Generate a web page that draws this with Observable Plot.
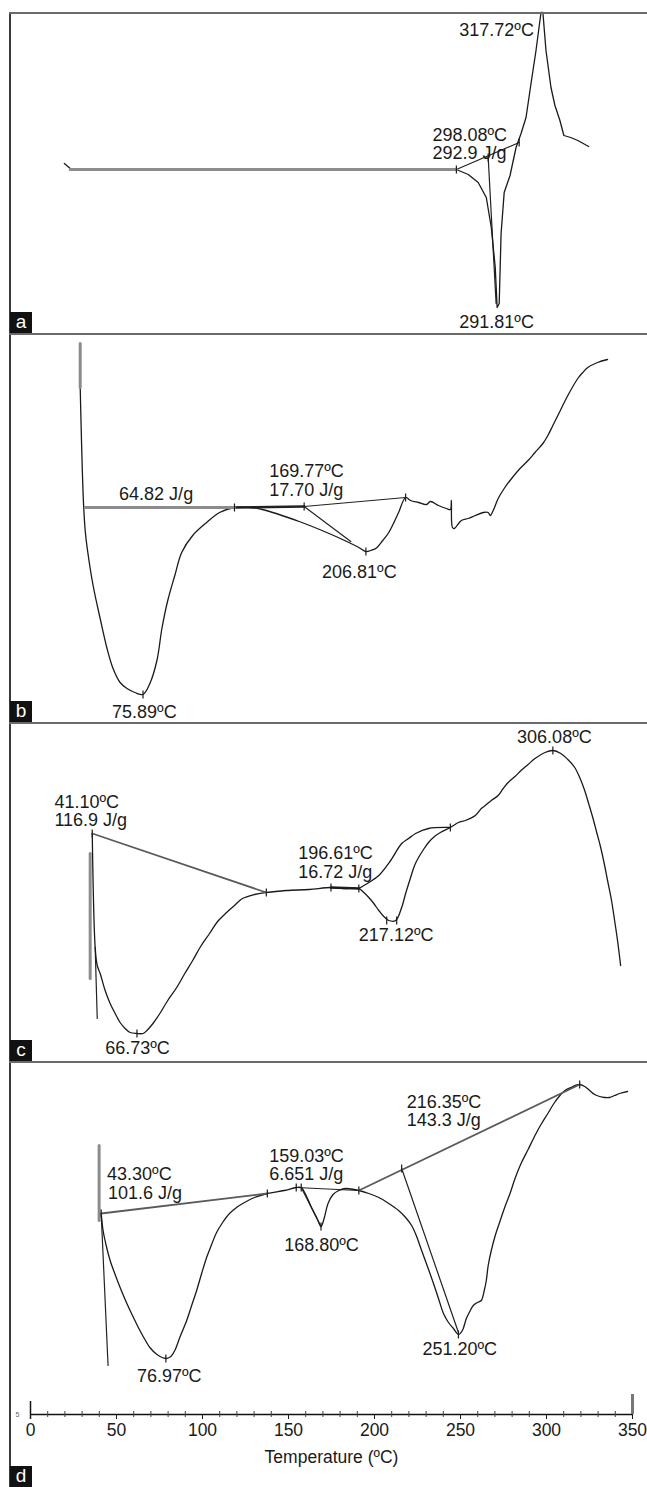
<!DOCTYPE html>
<html><head><meta charset="utf-8">
<script src="https://cdn.jsdelivr.net/npm/d3@7"></script>
<script src="https://cdn.jsdelivr.net/npm/@observablehq/plot@0.6"></script>
<style>
body{margin:0;background:#fff;}
#fig{position:relative;width:647px;height:1487px;overflow:hidden;background:#fff;font-family:"Liberation Sans",Arial,Helvetica,sans-serif}
.panel{position:absolute;left:0;width:647px}
.vline{position:absolute;left:9px;top:12px;width:1.5px;height:1475px;background:#3a3a3a}
.hline{position:absolute;left:9px;width:638px;background:#6a6a6a}
.tag{position:absolute;left:10px;width:22px;height:21px;background:#111;color:#fff;font-size:19px;line-height:19px;text-align:center}
</style></head><body><div id="fig"></div>
<script>
// ---------- shared axis values ----------
const tempTicks = [0, 50, 100, 150, 200, 250, 300, 350];
const minorTicks = [10,20,30,40,60,70,80,90,110,120,130,140,160,170,180,190,210,220,230,240,260,270,280,290,310,320,330,340];
const panelTags = ["a", "b", "c", "d"];

// ---------- panel a : [temperature ºC, heat flow (arb.)] ----------
const curveA = [[19.7,17.0],[23.1,16.5],[40.5,16.4],[247.6,16.4],[254.5,15.9],[260.3,15.1],[265.0,13.6],[267.9,10.6],[270.2,6.6],[271.3,2.6],[272.5,3.0],[273.6,10.0],[275.4,14.1],[278.8,15.8],[282.3,18.6],[285.2,20.0],[288.1,21.6],[291.0,25.0],[293.9,28.3],[296.8,32.1],[297.9,32.1],[299.7,28.3],[302.6,24.6],[304.9,22.8],[307.8,21.3],[310.1,19.8],[314.1,19.6],[318.2,19.3],[324.5,18.7]];
const greyA = [[[23.1,16.4],[247.6,16.4]]];
const midA = [];
const linesA = [[[247.6,16.4],[284.1,19.1]], [[266.1,17.6],[270.7,3.0]]];
const ticksA = [[247.6,16.4],[266.1,17.6],[284.1,19.1]];
const labelsA = [
  {t:"317.72ºC", x:249.3, y:30.3},
  {t:"298.08ºC", x:233.7, y:19.8},
  {t:"292.9 J/g", x:233.7, y:18.0},
  {t:"291.81ºC", x:249.3, y:1.1}
];

// ---------- panel b ----------
const curveB = [[28.9,33.6],[30.7,22.5],[31.8,19.3],[33.0,17.5],[36.4,13.8],[40.5,10.5],[44.5,7.5],[48.0,5.5],[52.1,4.1],[56.1,3.5],[60.7,3.1],[65.4,2.9],[69.4,4.0],[73.5,6.3],[76.4,9.5],[79.8,12.3],[83.9,14.8],[87.9,17.1],[94.3,18.8],[102.4,20.1],[109.9,21.1],[118.6,21.6],[127.3,21.6],[134.8,21.4],[156.2,20.2],[173.6,19.0],[185.1,18.1],[190.9,17.6],[195.0,17.2],[197.8,17.3],[200.7,17.5],[204.8,18.3],[208.3,19.1],[214.0,21.1],[218.1,22.6],[221.0,22.3],[225.6,22.1],[230.2,21.9],[232.5,22.2],[237.2,21.8],[241.8,21.5],[244.1,21.4],[244.7,22.3],[245.3,19.6],[246.4,19.5],[250.5,20.3],[254.5,20.5],[258.6,20.8],[263.2,21.1],[266.1,21.1],[267.3,20.8],[269.0,21.3],[271.9,22.5],[275.4,23.5],[278.8,24.3],[284.6,25.5],[289.3,26.3],[293.3,27.1],[297.9,28.0],[300.8,28.8],[303.7,29.8],[306.6,30.8],[312.4,32.8],[318.2,34.5],[321.1,35.1],[324.0,35.6],[329.7,36.1],[335.5,36.4]];
const greyB = [[[28.9,38.0],[28.9,33.6]], [[31.8,21.6],[118.6,21.6]]];
const midB = [];
const darkB = [[118.6,21.6],[159.1,21.7]];
const linesB = [[[159.1,21.7],[218.1,22.6]], [[159.1,21.7],[186.2,18.2]]];
const ticksB = [[118.6,21.6],[159.1,21.7],[195.0,17.2],[218.1,22.6],[65.4,2.9]];
const labelsB = [
  {t:"64.82 J/g", x:51.5, y:22.9},
  {t:"169.77ºC", x:138.8, y:25.2},
  {t:"17.70 J/g", x:138.8, y:23.3},
  {t:"206.81ºC", x:169.5, y:15.1},
  {t:"75.89ºC", x:47.4, y:1.1}
];

// ---------- panel c ----------
const curveC = [[35.9,22.9],[37.6,11.5],[38.8,9.7],[40.5,8.9],[43.4,7.2],[46.3,5.9],[49.2,4.9],[52.1,4.0],[55.0,3.4],[57.9,3.0],[61.9,2.9],[65.4,2.9],[67.7,3.2],[71.2,3.9],[75.2,4.9],[79.8,6.2],[85.0,7.5],[89.7,8.9],[94.3,10.2],[98.9,11.6],[104.1,12.9],[108.8,14.1],[114.0,15.0],[118.6,15.7],[123.2,16.4],[130.2,16.8],[137.1,17.0],[148.7,17.2],[162.0,17.3],[174.7,17.5],[182.2,17.4],[190.9,17.4],[193.8,17.0],[196.7,16.5],[199.6,15.9],[202.5,15.2],[205.4,14.6],[208.3,14.2],[212.3,14.2],[215.8,15.5],[218.1,16.9],[221.0,18.5],[223.3,19.7],[225.6,20.5],[228.5,21.3],[231.4,22.0],[234.9,22.6],[238.3,23.0],[244.1,23.5],[248.8,24.0],[252.8,24.2],[258.6,24.7],[262.1,25.4],[264.4,25.7],[267.9,26.2],[271.9,26.7],[274.8,27.4],[277.7,28.0],[281.7,28.6],[285.2,29.2],[289.3,29.8],[293.3,30.4],[299.1,31.0],[303.7,31.2],[308.3,30.9],[312.4,30.3],[316.4,29.5],[319.3,28.5],[322.2,27.2],[324.5,25.9],[326.9,24.5],[329.2,23.0],[331.5,21.5],[333.8,19.7],[335.5,18.2],[337.8,16.2],[339.6,14.2],[341.3,12.2],[343.1,9.7]];
const upperC = [[190.9,17.4],[196.7,18.0],[202.5,18.7],[209.4,20.2],[215.8,21.9],[219.8,22.4],[223.9,22.9],[231.4,23.4],[244.1,23.5]];
const greyC = [[[34.7,20.9],[34.7,8.4]]];
const midC = [[[35.9,22.9],[137.1,17.0]]];
const darkC = [[174.7,17.5],[190.9,17.4]];
const linesC = [[[37.6,11.5],[38.8,4.4]]];
const ticksC = [[35.9,22.9],[137.1,17.0],[174.7,17.5],[190.9,17.4],[207.1,14.2],[212.9,14.2],[244.1,23.5],[303.7,31.2],[61.9,2.9]];
const labelsC = [
  {t:"41.10ºC", x:13.9, y:26.0},
  {t:"116.9 J/g", x:13.9, y:24.2},
  {t:"196.61ºC", x:155.6, y:20.9},
  {t:"16.72 J/g", x:155.6, y:19.0},
  {t:"217.12ºC", x:190.9, y:12.7},
  {t:"306.08ºC", x:282.9, y:32.5},
  {t:"66.73ºC", x:43.4, y:1.4}
];

// ---------- panel d ----------
const curveD = [[41.1,20.1],[42.2,18.4],[44.0,16.9],[46.3,15.4],[49.2,14.0],[52.1,12.7],[55.0,11.5],[57.9,10.4],[60.7,9.4],[63.6,8.4],[66.5,7.5],[69.4,6.7],[73.5,6.0],[78.7,5.6],[81.6,5.8],[83.9,6.4],[86.8,7.7],[90.8,9.4],[93.7,10.9],[96.6,12.4],[99.5,14.1],[102.4,15.7],[105.3,17.0],[108.2,18.2],[111.7,19.2],[115.7,20.1],[119.8,20.7],[124.4,21.2],[130.2,21.7],[137.7,22.1],[147.5,22.4],[154.5,22.7],[157.4,22.7],[159.7,22.1],[163.1,20.8],[166.6,19.6],[168.9,18.8],[170.7,19.6],[173.0,21.1],[175.9,22.0],[179.3,22.4],[183.4,22.6],[190.9,22.4],[196.7,22.1],[202.5,21.7],[208.3,21.1],[214.0,20.4],[218.1,19.7],[221.6,18.9],[224.5,17.8],[227.4,16.4],[230.8,14.8],[234.3,13.1],[237.2,11.6],[240.1,10.1],[243.0,9.2],[245.9,8.6],[248.8,8.0],[251.1,8.4],[253.4,9.6],[255.7,10.4],[257.4,10.9],[259.8,11.2],[262.1,11.4],[263.8,12.4],[265.0,13.4],[266.1,14.9],[267.9,16.4],[270.2,17.9],[273.1,19.4],[275.9,20.8],[278.8,22.1],[281.7,23.6],[285.2,25.1],[289.3,26.5],[293.3,27.9],[296.8,29.0],[300.8,30.1],[304.3,31.1],[307.8,31.9],[310.7,32.4],[314.1,32.7],[319.3,33.0],[322.2,32.8],[325.1,32.4],[328.0,32.0],[330.9,31.8],[333.8,31.7],[336.7,31.7],[339.6,31.9],[342.5,32.1],[347.1,32.3]];
const greyD = [[[39.9,26.9],[39.9,19.4]]];
const midD = [[[41.1,20.1],[137.7,22.1]], [[190.9,22.4],[319.3,33.0]]];
const linesD = [[[41.1,20.1],[45.1,4.9]], [[154.5,22.7],[190.9,22.4]], [[157.4,22.7],[168.9,18.8]], [[215.8,24.6],[248.8,8.2]]];
const ticksD = [[41.1,20.1],[137.7,22.1],[154.5,22.7],[157.4,22.7],[168.9,18.8],[190.9,22.4],[215.8,24.6],[248.8,8.0],[78.7,5.6],[319.3,33.0]];
const labelsD = [
  {t:"43.30ºC", x:44.5, y:24.0},
  {t:"101.6 J/g", x:45.1, y:22.1},
  {t:"159.03ºC", x:138.8, y:25.8},
  {t:"6.651 J/g", x:138.8, y:24.0},
  {t:"168.80ºC", x:147.5, y:16.9},
  {t:"216.35ºC", x:218.7, y:31.2},
  {t:"143.3 J/g", x:218.7, y:29.4},
  {t:"251.20ºC", x:227.9, y:6.5},
  {t:"76.97ºC", x:61.9, y:3.8}
];

// ---------- drawing ----------
const FONT = '"Liberation Sans", Arial, Helvetica, sans-serif';
const INK = "#1a1a1a";
const vTick = {draw(ctx, size) { const r = Math.sqrt(size / Math.PI); ctx.moveTo(0, -r); ctx.lineTo(0, r); }};
const X = d => d[0], Y = d => d[1];

function panelPlot(cfg) {
  const {h, mb = 0, curve, upper, grey, mid, dark, lines, ticks, labels, axis, smooth} = cfg;
  const marks = [];
  if (dark) marks.push(Plot.line(dark, {x: X, y: Y, stroke: "#222", strokeWidth: 2.6}));
  for (const s of lines) marks.push(Plot.line(s, {x: X, y: Y, stroke: "#222", strokeWidth: 1.2}));
  marks.push(Plot.line(curve, {x: X, y: Y, stroke: INK, strokeWidth: 1.3, curve: smooth ? "catmull-rom" : "linear"}));
  if (upper) marks.push(Plot.line(upper, {x: X, y: Y, stroke: INK, strokeWidth: 1.3, curve: "catmull-rom"}));
  for (const s of grey) marks.push(Plot.line(s, {x: X, y: Y, stroke: "#8c8c8c", strokeWidth: 3}));
  for (const s of mid) marks.push(Plot.line(s, {x: X, y: Y, stroke: "#5a5a5a", strokeWidth: 1.8}));
  marks.push(Plot.dot(ticks, {x: X, y: Y, symbol: vTick, r: 4, stroke: INK, strokeWidth: 1.2, fill: "none"}));
  marks.push(Plot.text(labels, {x: "x", y: "y", text: "t", textAnchor: "start", fontSize: 18, fill: INK}));
  if (axis) {
    marks.push(Plot.ruleY([0], {stroke: "#111", strokeWidth: 1.5}));
    marks.push(Plot.ruleX(minorTicks, {y1: -0.3, y2: 0.3, stroke: "#444", strokeWidth: 1}));
    marks.push(Plot.ruleX([0], {y1: -0.5, y2: 1.3, stroke: "#111", strokeWidth: 1.5}));
    marks.push(Plot.ruleX([350], {y1: 0, y2: 2.0, stroke: "#777", strokeWidth: 3}));
    marks.push(Plot.axisX(tempTicks, {tickSize: 5, tickPadding: 4, fontSize: 17.5, fill: INK,
      label: "Temperature (ºC)", labelAnchor: "center", labelOffset: 48, labelArrow: "none"}));
    marks.push(Plot.axisY([0], {tickSize: 0, tickPadding: 11, fontSize: 7, fill: "#666", tickFormat: () => "5", label: null}));
  }
  const opts = {
    width: 647, height: h,
    marginLeft: 30, marginRight: 15, marginTop: 0, marginBottom: mb,
    x: {domain: [0, 350]},
    y: {domain: [0, (h - mb) / 10]},
    style: {fontFamily: FONT, fontSize: "18px", color: INK, background: "transparent", overflow: "visible"},
    marks
  };
  if (!axis) { opts.x.axis = null; opts.y.axis = null; }
  return Plot.plot(opts);
}

const fig = document.getElementById("fig");
const panels = [
  {top: 12,   h: 321, curve: curveA, grey: greyA, mid: midA, lines: linesA, ticks: ticksA, labels: labelsA, smooth: false},
  {top: 333,  h: 390, curve: curveB, grey: greyB, mid: midB, dark: darkB, lines: linesB, ticks: ticksB, labels: labelsB, smooth: true},
  {top: 723,  h: 339, curve: curveC, upper: upperC, grey: greyC, mid: midC, dark: darkC, lines: linesC, ticks: ticksC, labels: labelsC, smooth: true},
  {top: 1062, h: 425, mb: 73, curve: curveD, grey: greyD, mid: midD, lines: linesD, ticks: ticksD, labels: labelsD, smooth: true, axis: true}
];
panels.forEach((p) => {
  const div = document.createElement("div");
  div.className = "panel";
  div.style.top = p.top + "px";
  div.style.height = p.h + "px";
  div.appendChild(panelPlot(p));
  fig.appendChild(div);
});

// frame lines and panel tags
const vl = document.createElement("div"); vl.className = "vline"; fig.appendChild(vl);
[[12, 1.5], [333, 2], [722, 2], [1061, 2]].forEach(([t, w]) => {
  const d = document.createElement("div"); d.className = "hline";
  d.style.top = t + "px"; d.style.height = w + "px"; fig.appendChild(d);
});
const tagBottoms = [333, 722, 1061, 1487];
panelTags.forEach((t, i) => {
  const d = document.createElement("div"); d.className = "tag";
  d.style.top = (tagBottoms[i] - 21) + "px"; d.textContent = t; fig.appendChild(d);
});
</script></body></html>
